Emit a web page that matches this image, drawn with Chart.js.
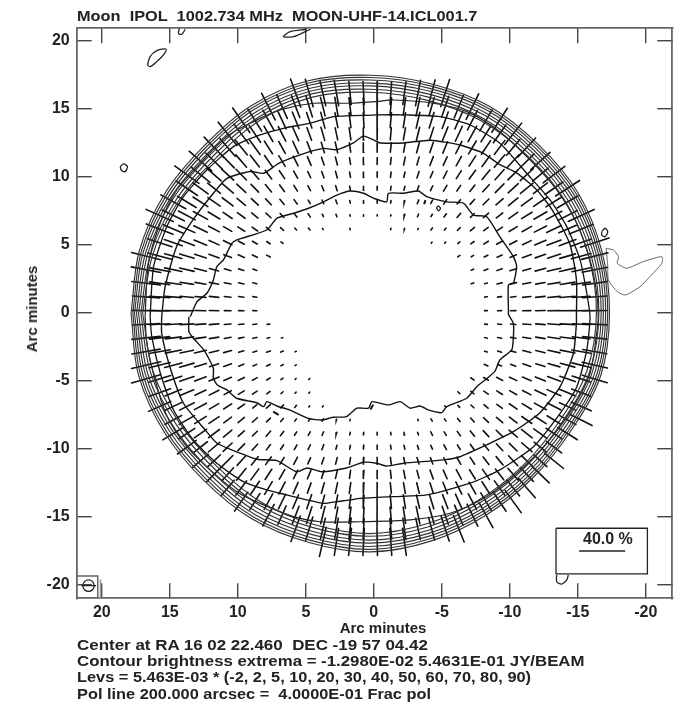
<!DOCTYPE html>
<html><head><meta charset="utf-8">
<script src="https://cdn.jsdelivr.net/npm/chart.js@4"></script>
<style>
html,body{margin:0;padding:0;background:#fff;width:682px;height:707px;overflow:hidden}
#wrap{position:relative;width:682px;height:707px;filter:blur(0.55px)}
canvas{position:absolute;left:0;top:0}
.t{position:absolute;white-space:pre;font-family:"Liberation Sans",Arial,sans-serif;font-weight:bold;color:#222;font-size:15px;line-height:16px;transform-origin:0 50%}
</style></head><body>
<div id="wrap"><canvas id="c" width="682" height="707"></canvas>
<div class="t" style="left:77px;top:8px;transform:scaleX(1.09)">Moon  IPOL  1002.734 MHz  MOON-UHF-14.ICL001.7</div>
<div class="t" style="left:32px;top:309px;transform-origin:50% 50%;transform:translate(-50%,-50%) rotate(-90deg)">Arc minutes</div>
<div class="t" style="left:383px;top:620px;transform:translateX(-50%)">Arc minutes</div>
<div class="t" style="left:77px;top:637px;transform:scaleX(1.13)">Center at RA 16 02 22.460  DEC -19 57 04.42</div>
<div class="t" style="left:77px;top:653px;transform:scaleX(1.12)">Contour brightness extrema = -1.2980E-02 5.4631E-01 JY/BEAM</div>
<div class="t" style="left:77px;top:669px;transform:scaleX(1.09)">Levs = 5.463E-03 * (-2, 2, 5, 10, 20, 30, 40, 50, 60, 70, 80, 90)</div>
<div class="t" style="left:77px;top:686px;transform:scaleX(1.09)">Pol line 200.000 arcsec =  4.0000E-01 Frac pol</div>
<div class="t" style="left:583px;top:531px;font-size:16px">40.0 %</div>
</div>
<script>
const xTicks=[20,15,10,5,0,-5,-10,-15,-20];
const yTicks=[20,15,10,5,0,-5,-10,-15,-20];
const ringAngles=[0,15,30,45,60,75,90,105,120,135,150,165,180,195,210,225,240,255,270,285,300,315,330,345];
const ring2=[17.6,17.6,17.5,17.35,17.6,17.7,17.5,17.45,17.55,17.5,17.65,17.62,17.58,17.55,17.1,17.0,17.1,17.33,17.55,17.45,17.45,17.35,17.5,17.65];
const ring5=[17.47,17.45,17.33,17.18,17.43,17.53,17.33,17.29,17.39,17.35,17.5,17.48,17.45,17.4,16.95,16.85,16.93,17.15,17.36,17.27,17.27,17.17,17.34,17.5];
const ring10=[17.35,17.3,17.15,17,17.25,17.35,17.15,17.1,17.22,17.17,17.33,17.33,17.3,17.25,16.8,16.67,16.75,16.95,17.15,17.07,17.07,16.96,17.14,17.33];
const ring20=[17.2,17.12,16.97,16.78,17.03,17.13,16.92,16.9,17,16.97,17.15,17.16,17.13,17.07,16.6,16.47,16.55,16.74,16.9,16.83,16.83,16.72,16.94,17.15];
const ring30=[17.05,16.95,16.78,16.57,16.82,16.92,16.72,16.68,16.8,16.78,16.95,16.98,16.97,16.88,16.4,16.27,16.33,16.52,16.68,16.6,16.58,16.5,16.72,16.97];
const ring40=[16.88,16.75,16.55,16.35,16.6,16.7,16.47,16.45,16.56,16.55,16.73,16.78,16.8,16.68,16.2,16.05,16.1,16.27,16.4,16.32,16.3,16.2,16.45,16.75];
const ring50=[16.75,16.58,16.35,16.1,16.35,16.45,16.25,16.2,16.33,16.35,16.53,16.58,16.62,16.47,16,15.85,15.88,16.03,16.2,16.08,16.05,15.95,16.2,16.55];
const contour60=[[16.82,-.27],[16.57,3.65],[15.71,6.6],[14.49,9.04],[12.77,11],[10.81,12.97],[8.85,14.07],[6.89,14.93],[4.44,15.42],[1.74,15.42],[-.22,15.54],[-1.44,15.66],[-4.39,15.42],[-6.83,14.8],[-9.27,13.33],[-11.49,11.25],[-13.45,9.04],[-14.92,6.6],[-15.9,3.9],[-16.39,1.45],[-16.5,-.27],[-16.39,-1.49],[-15.9,-4.44],[-14.68,-6.89],[-12.72,-9.58],[-10.51,-11.79],[-8.3,-13.5],[-5.6,-14.73],[-2.67,-15.22],[1,-15.35],[3.95,-15.35],[5.91,-14.97],[8.36,-14],[10.08,-13.14],[12.04,-11.54],[13.75,-9.83],[15.2,-7.62],[16.08,-4.93],[16.69,-2.23],[16.82,-.27]];
const contour70=[[16.45,-.27],[16.2,3.4],[15.22,6.35],[14,8.55],[12.28,10.51],[10.32,12.23],[8.36,13.09],[6.65,13.58],[4.68,13.95],[2.97,14.44],[-.22,14.56],[-2.42,14.56],[-4.87,14.44],[-7.08,13.82],[-9.27,12.48],[-11.24,10.27],[-12.96,8.31],[-14.19,6.35],[-15.17,3.9],[-15.66,1.45],[-15.9,-.27],[-15.66,-2.72],[-14.93,-5.42],[-13.7,-7.38],[-11.74,-9.83],[-9.27,-11.54],[-7.08,-12.52],[-3.89,-13.38],[-1.44,-13.5],[1,-13.63],[1.74,-13.75],[2.72,-13.87],[3.7,-14],[5.91,-13.5],[7.87,-13.01],[9.6,-12.4],[11.55,-11.05],[13.27,-9.34],[14.73,-7.13],[15.7,-4.43],[16.33,-1.74],[16.45,-.27]];
const contour80=[[15.6,-.27],[15.35,1.93],[14.5,4.88],[13.3,6.84],[11.8,8.8],[10.8,9.9],[9.1,10.4],[8.1,10.27],[7,11],[5.2,11.7],[3.7,12.1],[2.72,12],[1.5,12.5],[.76,13],[-.24,12.6],[-.46,12.5],[-2.18,12.5],[-4.14,12.7],[-6.34,12.35],[-8.06,11.74],[-9.27,10.9],[-10.5,10.3],[-11.98,9.05],[-13.1,7.6],[-14.4,5.12],[-14.9,2.43],[-14.9,-.27],[-14.9,-.76],[-14.68,-2.96],[-13.7,-5.42],[-12.2,-7.35],[-10.26,-8.73],[-8.3,-9.7],[-6.34,-10.57],[-5.1,-10.8],[-2.18,-11.05],[-.95,-11.26],[-.22,-11.05],[.76,-10.98],[2,-11.4],[3.82,-11.67],[4.9,-11.4],[5.7,-11.67],[7.13,-10.86],[8.6,-10.76],[9.85,-10.3],[11.5,-9.6],[12.5,-8.48],[14,-6.64],[15,-3.95],[15.6,-1.49],[15.6,-.27]];
const contour90=[[13.5,-.27],[13,.83],[12.28,1.45],[11.8,2.43],[11.55,3.4],[11.06,3.9],[10.44,5.12],[10.07,5.37],[7.87,6.1],[7.13,6.96],[5.9,7.33],[4.8,7.7],[3.7,8.17],[2.72,8.67],[1.74,8.97],[.76,8.8],[.03,8.44],[-.95,8.17],[-1.07,8.8],[-2.18,8.8],[-3.28,8.97],[-3.9,8.55],[-5.36,8.17],[-6.59,8.07],[-7.33,7.2],[-8.3,7.07],[-9.27,5.6],[-9.77,4.88],[-10.26,4.14],[-10.5,3.4],[-10.26,2.18],[-9.9,2.06],[-9.9,.22],[-9.9,-.1],[-10.26,-.76],[-10.26,-1.86],[-10.14,-2.72],[-9.27,-3.45],[-8.9,-4.3],[-8.18,-4.93],[-7.57,-5.42],[-6.83,-6.27],[-5.36,-6.89],[-5,-7.33],[-4,-7.13],[-3.4,-6.84],[-2.67,-7],[-1.93,-6.52],[-1.08,-6.76],[.14,-6.52],[.39,-7],[1.25,-7],[2,-7.62],[2.99,-7.67],[3.82,-7.87],[4.8,-7.76],[6.2,-7.13],[7.13,-6.84],[7.87,-6.52],[8.1,-6.89],[8.6,-6.6],[10.1,-6.27],[10.8,-5.66],[11.5,-5.3],[11.8,-4.8],[11.8,-4.07],[12.5,-2.72],[13.27,-1.86],[13.6,-1.37],[13.6,-.27]];
const noiseA=[[16.65,18.24],[16.45,18.85],[15.96,19.29],[15.27,19.39],[15.47,18.97],[15.96,18.48],[16.45,18.11],[16.65,18.24]];
const noiseB=[[14.3,20.93],[14.37,20.56],[14.12,20.49],[13.87,20.86]];
const noiseC=[[4.64,20.86],[5.05,20.68],[5.91,20.32],[6.65,20.32],[6.15,20.68],[4.93,20.86]];
const noiseD=[[18.65,10.76],[18.41,10.96],[18.12,10.76],[18.29,10.39],[18.58,10.51],[18.65,10.76]];
const noiseE=[[-16.76,5.98],[-17.01,6.23],[-17.2,5.98],[-17.01,5.61],[-16.76,5.73],[-16.76,5.98]];
const noiseF=[[-13.45,-19.26],[-13.45,-19.76],[-13.82,-19.93],[-14.19,-19.63],[-14.3,-19.26]];
const noiseG=[[-4.6,7.75],[-4.75,7.85],[-4.9,7.7],[-4.75,7.5],[-4.6,7.75]];
const noiseH=[[-3.8,8.3],[-3.7,8.0]];
const noiseI=[[7.4,-7.25],[7.0,-7.5]];
const noiseJ=[[.05,-6.75],[.25,-7.1]];
const lobe=[[-17.08,4.75],[-17.62,4.63],[-18,4.14],[-17.9,3.65],[-18.6,3.29],[-19.8,3.77],[-21.18,4.14],[-21.18,3.65],[-20.3,2.67],[-19.58,1.93],[-18.5,1.32],[-17.9,1.57],[-17.25,2.43],[-17.2,3.5],[-17.08,4.75]];
const legendBox=[[-13.4,-15.83],[-20.12,-15.83],[-20.12,-19.19],[-13.4,-19.19],[-13.4,-15.83]];
const legendLine=[[-15.1,-17.5],[-18.48,-17.5]];
const beamBox=[[21.85,-19.34],[20.3,-19.34],[20.3,-20.98],[21.85,-20.98]];
const beamEdge=[[20.1,-19.6],[20.1,-20.98]];
const beamBar=[[20.42,-20.05],[21.5,-20.05]];
const beamCentre=[[20.98,-20.05]];
const polRowY=[16.17,15.17,14.17,13.17,12.17,11.17,10.17,9.17,8.17,7.17,6.17,5.17,4.18,3.18,2.18,1.18,.17,-.83,-1.83,-2.84,-3.84,-4.85,-5.86,-6.87,-7.87,-8.87,-9.87,-10.87,-11.87,-12.87,-13.87,-14.87,-15.87,-16.83];
const polRowStart=[5.75,7.75,9.75,10.75,11.75,12.75,13.75,13.75,14.75,15.75,15.75,15.75,16.75,16.75,16.75,16.75,16.75,16.75,16.75,16.75,16.75,16.75,15.75,15.75,14.75,14.75,13.75,12.75,11.75,10.75,9.75,7.75,5.75,3.75];
const polLen=[
[2.2,2.1,1.9,1.9,1.7,1.7,1.7,1.7,1.7,1.9,2,2.1],
[2.2,1.9,1.7,1.6,1.4,1.4,1.3,1.3,1.3,1.3,1.3,1.4,1.4,1.6,1.8,2.1],
[2.2,1.9,1.7,1.4,1.3,1.2,1.2,1.1,1.1,1.1,1.1,1.1,1.1,1.2,1.2,1.3,1.4,1.6,1.8,2.1],
[2.2,1.8,1.5,1.3,1.2,1.1,1,1,.9,.9,.9,.9,.9,.9,1,1,1.1,1.2,1.3,1.4,1.6,2],
[2.1,1.7,1.4,1.3,1.1,1,1,.9,.8,.8,.7,.7,.7,.7,.7,.8,.8,.9,1,1.1,1.2,1.3,1.5,1.9],
[2.2,1.7,1.4,1.2,1.1,1,.9,.8,.7,.6,.6,.5,.5,.5,.5,.6,.6,.7,.7,.8,.9,1,1.2,1.3,1.5,1.9],
[2.2,1.8,1.4,1.2,1.1,.9,.8,.7,.6,.5,.5,.5,.4,.4,.4,.4,.4,.5,.5,.6,.7,.8,.9,1,1.1,1.3,1.5,2],
[1.9,1.4,1.2,1.1,.9,.8,.7,.6,.5,.4,.4,.4,.3,.3,.3,.3,.3,.4,.4,.5,.5,.6,.7,.9,1,1.2,1.3,1.6,2.1],
[2.1,1.6,1.3,1.1,1,.8,.7,.6,.5,.4,.3,.3,.3,.2,.2,.2,.2,.2,.3,.3,.4,.4,.5,.6,.7,.9,1,1.2,1.4,1.8],
[2.2,1.8,1.4,1.2,1,.8,.7,.6,.5,.4,.3,.3,.2,.2,.1,.1,.1,.1,.2,.2,.2,.3,.4,.4,.5,.6,.8,.9,1.1,1.3,1.6,2.1],
[2.1,1.6,1.3,1.1,.9,.7,.6,.5,.4,.3,.2,.2,.1,0,.1,0,0,.1,.1,.1,.2,.2,.3,.4,.4,.5,.7,.8,1,1.2,1.4,1.9],
[1.9,1.4,1.2,1,.8,.7,.5,.4,.3,.2,0,0,0,0,0,0,0,0,0,0,.1,.1,.2,.3,.4,.5,.6,.7,.9,1.1,1.3,1.6,2.2],
[2.2,1.8,1.3,1.1,.9,.8,.6,.5,.4,.3,0,0,0,0,0,0,0,0,0,0,0,0,0,.2,.2,.3,.4,.5,.7,.8,1,1.2,1.5,2],
[2.2,1.6,1.3,1.1,.9,.7,.5,.4,.3,0,0,0,0,0,0,0,0,0,0,0,0,0,0,0,.2,.3,.4,.5,.6,.8,1,1.2,1.4,1.9],
[2.1,1.5,1.2,1,.8,.7,.5,.4,.3,0,0,0,0,0,0,0,0,0,0,0,0,0,0,0,.2,.2,.4,.5,.6,.7,.9,1.1,1.4,1.8],
[2,1.5,1.2,1,.8,.7,.5,.4,.3,0,0,0,0,0,0,0,0,0,0,0,0,0,0,0,0,.2,.3,.4,.6,.7,.9,1.1,1.3,1.8],
[2,1.5,1.2,1,.8,.7,.5,.4,.3,0,0,0,0,0,0,0,0,0,0,0,0,0,0,0,0,.2,.3,.4,.6,.7,.9,1.1,1.3,1.8],
[2,1.5,1.2,1,.8,.7,.5,.4,.3,.2,0,0,0,0,0,0,0,0,0,0,0,0,0,0,0,.2,.3,.4,.6,.7,.9,1.1,1.3,1.8],
[2.1,1.5,1.2,1,.8,.7,.5,.4,.3,.2,.1,0,0,0,0,0,0,0,0,0,0,0,0,0,0,.2,.3,.4,.6,.7,.9,1.1,1.3,1.8],
[2.1,1.6,1.2,1,.9,.7,.6,.4,.3,.3,.2,.1,0,0,0,0,0,0,0,0,0,0,0,0,0,.2,.3,.4,.6,.7,.9,1.1,1.4,1.8],
[2.2,1.6,1.3,1.1,.9,.7,.6,.4,.3,.3,.2,.1,0,0,0,0,0,0,0,0,0,0,0,0,0,.3,.3,.4,.6,.7,.9,1.1,1.4,1.9],
[2.2,1.7,1.3,1.1,.9,.8,.6,.5,.4,.3,.2,.1,.1,0,0,0,0,0,0,0,0,0,0,0,.3,.4,.5,.6,.7,.8,1,1.2,1.4,1.9],
[1.7,1.3,1.1,.9,.8,.6,.5,.4,.3,.2,.1,.1,0,0,0,0,0,0,0,0,0,0,.2,.3,.4,.5,.6,.7,.9,1.1,1.3,1.5],
[1.8,1.4,1.2,1,.8,.7,.6,.4,.4,.3,.2,.1,.1,0,0,0,0,0,0,0,0,.1,.2,.3,.4,.5,.7,.8,1,1.1,1.3,1.6],
[1.4,1.3,1,.9,.7,.6,.5,.4,.3,.2,.2,.2,.1,.1,0,0,0,0,.1,.2,.2,.3,.4,.5,.6,.7,.9,1,1.2,1.4,1.8],
[1.8,1.4,1.1,1,.8,.6,.5,.5,.4,.3,.3,.3,.2,.2,.2,.2,.2,.2,.2,.3,.3,.4,.5,.6,.7,.8,1,1.2,1.4,1.7],
[1.7,1.3,1.1,.9,.7,.6,.5,.4,.4,.4,.4,.3,.3,.3,.3,.3,.3,.3,.3,.4,.4,.5,.6,.7,.8,1,1.2,1.4],
[1.5,1.3,1.1,.9,.8,.7,.6,.6,.5,.5,.5,.5,.5,.5,.5,.5,.5,.5,.5,.6,.6,.7,.8,1,1.1,1.3,1.8],
[1.5,1.3,1.1,1,.9,.8,.7,.7,.6,.6,.6,.6,.6,.6,.6,.6,.7,.7,.8,.8,.9,1,1.2,1.4,1.8],
[1.5,1.3,1.2,1.1,1,.9,.8,.8,.8,.8,.8,.8,.8,.8,.8,.8,.9,1,1,1.1,1.3,1.5,1.9],
[1.7,1.4,1.3,1.2,1.1,1.1,1,1,1,1,1,1,1,1,1.1,1.1,1.2,1.3,1.5,1.7,2],
[1.8,1.5,1.4,1.3,1.3,1.2,1.2,1.2,1.2,1.2,1.2,1.3,1.3,1.4,1.6,1.8,2.1],
[2,1.8,1.6,1.6,1.6,1.5,1.5,1.5,1.6,1.6,1.7,1.9,2.1],
[2.2,2,2,2,2,2,2]];
const polAng=[
[70,74,77,80,84,87,-89,-86,-82,-79,-75,-72],
[63,66,69,73,76,80,83,87,-89,-85,-82,-78,-74,-71,-68,-64],
[55,58,61,65,68,71,75,79,83,87,-89,-85,-81,-77,-73,-70,-66,-63,-60,-57],
[51,53,56,60,63,66,70,74,78,82,87,-89,-85,-80,-76,-72,-68,-65,-61,-58,-55,-52],
[46,49,51,54,57,61,65,69,73,77,82,86,-89,-84,-80,-75,-71,-67,-63,-59,-56,-53,-50,-47],
[41,44,46,49,52,55,59,63,67,71,76,81,86,-89,-84,-79,-74,-69,-65,-61,-57,-54,-50,-47,-45,-42],
[36,39,41,43,46,49,53,56,61,65,70,75,80,86,-89,-83,-77,-72,-67,-63,-58,-54,-51,-48,-45,-42,-40,-37],
[34,36,38,40,43,46,50,54,58,63,68,73,79,85,-88,-82,-76,-71,-65,-60,-56,-52,-48,-45,-42,-39,-37,-35,-33],
[29,31,33,35,37,40,43,47,50,55,60,65,71,78,85,-88,-81,-75,-68,-62,-57,-53,-48,-45,-41,-39,-36,-34,-32,-30],
[24,26,28,29,31,34,36,39,43,47,51,56,62,69,76,84,-88,-80,-73,-66,-59,-54,-49,-45,-41,-38,-35,-32,-30,-28,-27,-25],
[21,23,24,26,28,30,32,35,39,42,47,52,59,0,74,0,0,-79,-70,-62,-55,-50,-45,-40,-37,-34,-31,-29,-27,-25,-23,-22],
[18,19,21,22,24,26,28,31,34,37,0,0,0,0,0,0,0,0,0,0,-51,-45,-40,-35,-32,-29,-27,-25,-23,-21,-20,-19,-18],
[14,15,16,17,18,20,21,23,26,28,0,0,0,0,0,0,0,0,0,0,0,0,0,-34,-30,-27,-24,-22,-20,-19,-18,-16,-15,-14],
[11,11,12,13,14,15,16,18,20,0,0,0,0,0,0,0,0,0,0,0,0,0,0,0,-24,-21,-19,-17,-16,-15,-13,-13,-12,-11],
[7,8,8,9,10,11,11,13,14,0,0,0,0,0,0,0,0,0,0,0,0,0,0,0,-17,-15,-13,-12,-11,-10,-9,-9,-8,-8],
[4,4,5,5,5,6,6,7,8,0,0,0,0,0,0,0,0,0,0,0,0,0,0,0,0,-8,-7,-7,-6,-6,-5,-5,-4,-4],
[1,1,1,1,1,1,1,1,1,0,0,0,0,0,0,0,0,0,0,0,0,0,0,0,0,-1,-1,-1,-1,-1,-1,-1,-1,-1],
[-3,-3,-3,-3,-4,-4,-4,-5,-5,-6,0,0,0,0,0,0,0,0,0,0,0,0,0,0,0,6,5,5,4,4,4,3,3,3],
[-6,-7,-7,-8,-8,-9,-10,-11,-12,-13,-15,0,0,0,0,0,0,0,0,0,0,0,0,0,0,13,11,10,9,9,8,7,7,6],
[-10,-10,-11,-12,-13,-14,-15,-16,-18,-20,-22,-26,0,0,0,0,0,0,0,0,0,0,0,0,0,19,17,15,14,13,12,11,10,10],
[-13,-14,-15,-16,-17,-18,-20,-22,-24,-26,-30,-34,0,0,0,0,0,0,0,0,0,0,0,0,0,25,23,21,19,17,16,15,14,13],
[-16,-17,-18,-19,-21,-22,-24,-26,-29,-32,-36,-40,-46,0,0,0,0,0,0,0,0,0,0,0,34,30,28,25,23,22,20,19,18,17],
[-20,-22,-23,-25,-27,-29,-31,-34,-37,-41,-46,-51,0,0,0,0,0,0,0,0,0,0,43,39,35,32,30,28,26,24,22,21],
[-24,-25,-27,-28,-30,-33,-35,-38,-41,-45,-50,-55,-61,0,0,0,0,0,0,0,0,53,48,43,40,36,34,31,29,27,25,24],
[-28,-30,-32,-34,-36,-39,-42,-45,-49,-54,-59,-65,-71,-77,0,0,0,0,68,62,56,52,48,44,40,38,35,33,31,29,27],
[-31,-33,-35,-37,-40,-42,-45,-49,-53,-57,-62,-67,-73,-79,-85,88,82,76,70,64,59,55,51,47,44,41,38,36,34,32],
[-36,-38,-40,-43,-45,-48,-52,-56,-60,-64,-69,-74,-80,-86,89,83,77,72,67,62,58,54,50,47,44,41,39,37],
[-40,-43,-45,-48,-51,-54,-58,-62,-66,-71,-76,-81,-86,89,83,78,73,69,64,60,56,53,50,47,44,42,39],
[-45,-48,-51,-54,-57,-60,-64,-68,-72,-77,-82,-86,89,84,79,75,70,66,62,58,55,52,49,47,44],
[-50,-53,-56,-59,-62,-66,-70,-74,-78,-82,-87,89,84,80,76,72,68,64,61,57,54,51,49],
[-55,-58,-61,-64,-67,-71,-75,-79,-83,-87,89,85,81,77,73,69,66,62,59,56,54],
[-62,-66,-69,-72,-76,-80,-83,-87,89,85,81,78,74,71,67,64,61],
[-70,-73,-77,-80,-84,-87,89,85,82,78,75,72,68],
[-77,-81,-84,-87,89,86,82]];

const toPts=a=>a.map(p=>({x:p[0],y:p[1]}));
const ringPts=r=>{const pts=ringAngles.map((a,i)=>({x:.25+r[i]*Math.cos(a*Math.PI/180),y:-.02+r[i]*Math.sin(a*Math.PI/180)}));pts.push(pts[0]);return pts;};
const polPts=[];
polRowY.forEach((y,i)=>polLen[i].forEach((len,j)=>{
  if(!len)return;
  const xc=polRowStart[i]-j,a=polAng[i][j]*Math.PI/180,dx=len/2*Math.cos(a),dy=len/2*Math.sin(a);
  polPts.push({x:xc-dx,y:y-dy},{x:xc+dx,y:y+dy},{x:NaN,y:NaN});
}));
const line=(data,color,w,tension=0)=>({data,borderColor:color,borderWidth:w,tension,showLine:true,pointRadius:0,fill:false,spanGaps:false});
const datasets=[
 ...[ring2,ring5,ring10,ring20,ring30,ring40,ring50].map(r=>line(ringPts(r),'#333',1.15,.35)),
 line(toPts(contour60),'#222',1.2,.3),line(toPts(contour70),'#111',1.3,.2),line(toPts(contour80),'#111',1.4,.2),line(toPts(contour90),'#111',1.4,.2),
 {...line(polPts,'#111',1.6),borderCapStyle:'round'},
 ...[noiseA,noiseB,noiseC,noiseD,noiseE,noiseF,noiseG].map(n=>line(toPts(n),'#222',1.3,.3)),
 ...[noiseH,noiseI,noiseJ].map(n=>line(toPts(n),'#111',2)),
 line(toPts(lobe),'#666',1,.2),
 line(toPts(legendBox),'#222',1.3),line(toPts(legendLine),'#222',1.4),
 line(toPts(beamBox),'#666',1.5),line(toPts(beamEdge),'#999',1.5),line(toPts(beamBar),'#222',1.2),
 {data:toPts(beamCentre),showLine:false,pointRadius:5.7,pointStyle:'circle',borderColor:'#222',borderWidth:1.3,backgroundColor:'rgba(0,0,0,0)'}
];
const grid={drawOnChartArea:false,drawTicks:true,tickLength:-15,color:'#444',lineWidth:1.4};
const border={display:true,color:'#666',width:1.8};
const lab={font:{family:'Liberation Sans',weight:'bold',size:16},color:'#222',autoSkip:false,maxRotation:0,includeBounds:false,stepSize:5};
const xr={min:-21.95,max:21.85,reverse:true}, yr={min:-20.98,max:20.93};
const fitX=h=>s=>{s.height=h;s.paddingLeft=0;s.paddingRight=0;s.paddingTop=0;s.paddingBottom=0};
const fitY=w=>s=>{s.width=w;s.paddingLeft=0;s.paddingRight=0;s.paddingTop=0;s.paddingBottom=0};
new Chart(document.getElementById('c'),{type:'scatter',data:{datasets},options:{
 responsive:false,animation:false,devicePixelRatio:1,events:[],
 layout:{padding:{left:36.7,top:28.3,right:9.7,bottom:80.7}},
 plugins:{legend:{display:false},tooltip:{enabled:false}},
 scales:{
  x:{type:'linear',position:'bottom',...xr,grid,border,ticks:{...lab,padding:20,callback:v=>xTicks.includes(v)?String(v):''},afterFit:fitX(28)},
  x2:{type:'linear',axis:'x',position:'top',...xr,grid,border,ticks:{...lab,display:false},afterFit:fitX(0)},
  y:{type:'linear',position:'left',...yr,grid,border,ticks:{...lab,padding:22,callback:v=>yTicks.includes(v)?String(v):''},afterFit:fitY(40)},
  y2:{type:'linear',axis:'y',position:'right',...yr,grid,border,ticks:{...lab,display:false},afterFit:fitY(0)}
 }}});
</script></body></html>
